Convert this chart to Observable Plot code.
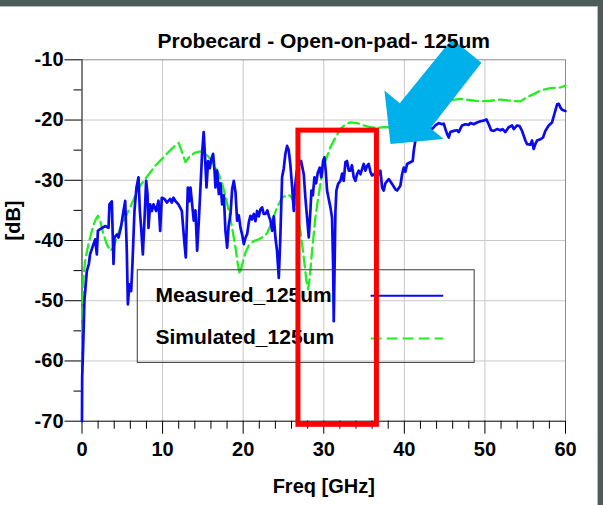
<!DOCTYPE html>
<html><head><meta charset="utf-8">
<script src="https://cdn.jsdelivr.net/npm/d3@7"></script>
<script src="https://cdn.jsdelivr.net/npm/@observablehq/plot@0.6"></script>
<style>
body{margin:0;background:#fff;}
#wrap{position:relative;width:603px;height:505px;background:#4b5c59;overflow:hidden;font-family:"Liberation Sans",Arial,sans-serif;}
#paper{position:absolute;left:0;top:6px;width:598px;height:499px;background:#fff;border-top:1px solid #b8b8b8;border-right:1px solid #b8b8b8;box-sizing:border-box;}
#chart{position:absolute;left:0;top:0;}
</style></head><body>
<div id="wrap"><div id="paper"></div><div id="chart"></div></div>
<script>
const titleText = "Probecard - Open-on-pad- 125um";
const xLabel = "Freq [GHz]";
const yLabel = "[dB]";
const xTicks = [0, 10, 20, 30, 40, 50, 60];
const xTickLabels = ["0", "10", "20", "30", "40", "50", "60"];
const xMinor = [2,4,6,8,12,14,16,18,22,24,26,28,32,34,36,38,42,44,46,48,52,54,56,58];
const yTicks = [-10, -20, -30, -40, -50, -60, -70];
const yTickLabels = ["-10", "-20", "-30", "-40", "-50", "-60", "-70"];
const yMinor = [-15, -25, -35, -45, -55, -65];
const gridXVals = [10, 20, 30, 40, 50];
const gridYVals = [-20, -30, -40, -50, -60];
const seriesNames = ["Measured_125um", "Simulated_125um"];

const freqMeas = [0.00,0.02,0.15,0.30,0.60,0.85,1.00,1.43,1.64,1.84,1.97,2.26,2.87,3.29,3.41,3.70,3.91,4.03,4.32,4.53,4.82,5.15,5.36,5.56,5.69,5.89,6.10,6.26,6.51,6.76,7.01,7.18,7.34,7.55,7.75,7.96,8.13,8.25,8.46,8.67,8.87,9.20,9.49,9.70,9.90,10.24,10.53,10.94,11.15,11.35,11.56,11.97,12.39,12.72,12.88,13.13,13.30,13.46,13.87,14.08,14.29,14.50,14.70,14.90,15.10,15.30,15.45,15.65,15.85,16.05,16.27,16.45,16.56,16.77,16.98,17.18,17.39,17.60,17.80,18.01,18.20,18.43,18.63,18.84,19.05,19.25,19.45,19.67,19.87,20.08,20.30,20.50,20.70,20.90,21.10,21.32,21.52,21.73,21.94,22.15,22.35,22.55,22.77,23.00,23.20,23.39,23.59,23.80,24.00,24.20,24.42,24.60,24.83,25.04,25.24,25.45,25.65,25.86,26.07,26.28,26.45,26.65,26.90,27.19,27.52,27.72,27.93,28.14,28.34,28.47,28.65,28.84,29.05,29.25,29.50,29.70,29.92,30.08,30.25,30.41,30.60,30.83,31.03,31.16,31.24,31.35,31.45,31.57,31.78,32.07,32.28,32.48,32.69,32.89,33.10,33.30,33.50,33.72,33.93,34.13,34.34,34.55,34.75,34.96,35.17,35.38,35.58,35.79,35.99,36.28,36.60,36.82,37.03,37.24,37.44,37.65,38.06,38.47,38.89,39.10,39.51,39.72,39.93,40.13,40.34,40.75,41.04,41.17,41.37,41.58,42.30,43.00,43.44,43.85,44.27,44.68,44.89,45.10,45.30,45.51,45.71,46.13,46.54,46.75,47.16,47.58,47.99,48.20,48.61,49.02,49.44,49.85,50.18,50.47,50.76,51.09,51.50,51.92,52.20,52.54,52.95,53.37,53.58,53.99,54.30,54.61,54.81,55.02,55.23,55.64,55.85,56.05,56.26,56.47,56.88,57.21,57.50,57.92,58.33,58.62,58.96,59.16,59.36,59.57,59.99];
const dbMeas = [-70.0,-62.8,-57.3,-50.0,-45.1,-43.9,-42.3,-40.6,-39.8,-42.3,-38.4,-38.1,-37.6,-37.9,-34.0,-33.5,-43.9,-39.5,-39.0,-39.5,-37.9,-35.1,-33.4,-41.7,-50.6,-47.3,-48.4,-43.9,-35.1,-31.2,-29.5,-35.1,-37.9,-42.3,-36.7,-30.1,-32.3,-37.9,-34.0,-35.1,-34.0,-35.1,-33.4,-38.4,-32.9,-33.1,-33.7,-33.1,-33.7,-32.9,-33.4,-34.0,-35.1,-40.6,-42.8,-31.2,-33.5,-31.2,-36.7,-35.0,-41.7,-36.7,-31.2,-25.6,-22.0,-27.0,-31.2,-26.8,-28.0,-26.5,-25.6,-28.5,-31.2,-28.4,-32.3,-30.5,-34.0,-32.5,-38.4,-41.2,-37.5,-35.6,-31.5,-30.1,-32.0,-36.7,-35.8,-37.9,-39.0,-40.6,-39.5,-38.9,-37.0,-35.9,-36.5,-35.6,-36.8,-35.1,-36.0,-34.8,-34.5,-35.6,-35.6,-35.0,-36.0,-36.7,-38.4,-36.0,-39.5,-41.7,-46.2,-40.0,-29.5,-28.0,-25.6,-24.3,-25.0,-27.5,-31.0,-35.1,-31.0,-28.5,-27.5,-26.8,-29.0,-32.9,-36.2,-39.5,-35.1,-31.7,-32.5,-29.5,-30.5,-28.8,-27.9,-29.5,-26.8,-26.2,-28.5,-31.7,-33.0,-34.5,-36.2,-43.9,-53.4,-44.0,-35.1,-31.7,-30.6,-30.1,-28.9,-30.1,-27.0,-26.8,-28.4,-28.4,-27.5,-29.5,-30.1,-29.0,-28.4,-29.0,-28.2,-27.3,-28.4,-27.6,-27.3,-28.6,-29.2,-29.0,-28.5,-29.0,-28.4,-31.2,-31.7,-30.5,-29.8,-30.6,-31.5,-31.7,-30.9,-29.0,-27.9,-28.6,-27.3,-27.0,-26.8,-25.1,-23.4,-22.9,-21.8,-21.3,-21.5,-20.9,-20.5,-20.7,-20.6,-21.5,-22.3,-22.9,-22.0,-21.8,-21.7,-22.0,-20.9,-20.7,-20.8,-20.5,-20.7,-20.4,-20.2,-20.1,-19.9,-20.7,-21.7,-21.8,-21.5,-21.7,-21.5,-22.0,-21.2,-20.9,-21.5,-20.9,-21.0,-21.8,-22.6,-23.4,-24.0,-24.1,-23.4,-24.8,-24.0,-23.4,-23.2,-22.9,-21.8,-20.9,-20.4,-19.0,-17.4,-17.3,-17.9,-18.3,-18.5];

const freqSim = [0.00,0.06,0.18,0.39,0.80,1.22,1.63,1.97,2.26,2.67,3.08,3.49,3.91,4.32,4.74,5.36,5.98,6.60,7.22,7.84,8.46,9.08,9.90,10.52,11.14,11.60,12.00,12.40,12.84,13.20,13.46,14.08,14.70,15.32,15.94,16.56,16.98,17.39,17.80,18.22,18.63,19.05,19.34,19.58,19.87,20.29,20.70,21.32,21.94,22.56,22.97,23.38,23.80,24.21,24.83,25.45,25.86,26.28,26.69,27.10,27.52,27.85,28.06,28.26,28.55,28.96,29.38,29.79,30.21,30.83,31.45,32.07,32.69,33.31,34.13,34.96,35.79,36.62,37.44,38.30,39.50,40.50,41.50,42.50,43.50,44.50,45.71,46.96,48.20,49.44,50.68,51.92,53.16,54.40,55.23,56.05,56.88,58.12,59.36,60.00];
const dbSim = [-61.0,-51.7,-46.2,-43.4,-40.6,-38.4,-36.7,-35.9,-36.7,-39.0,-40.6,-41.7,-41.2,-39.5,-37.9,-36.2,-34.5,-32.6,-30.9,-29.8,-28.7,-27.6,-26.5,-25.6,-24.8,-24.2,-23.8,-25.3,-27.0,-26.3,-25.9,-25.4,-25.2,-25.5,-26.5,-27.9,-29.0,-30.6,-32.6,-35.1,-37.9,-41.2,-44.0,-45.6,-44.0,-42.0,-40.8,-40.1,-39.8,-39.3,-38.8,-37.5,-36.0,-34.5,-32.9,-32.4,-32.6,-33.4,-35.1,-38.4,-42.8,-46.7,-48.1,-46.2,-41.7,-36.2,-32.3,-29.0,-26.8,-24.5,-22.9,-21.5,-20.7,-20.4,-20.5,-20.9,-21.2,-21.3,-21.2,-21.2,-21.1,-20.5,-19.5,-18.3,-17.3,-16.8,-16.7,-16.5,-16.7,-16.9,-16.8,-16.6,-16.8,-16.9,-16.2,-15.7,-15.1,-14.7,-14.6,-14.3];

// annotation overlays (in data units)
const boxFreq = [26.86, 36.6];
const boxDb = [-21.76, -70.6];
const arrowFreq = [45.93, 49.57, 43.24, 44.89, 38.28, 37.53, 39.43];
const arrowDb = [-6.51, -10.50, -21.38, -23.14, -23.98, -15.11, -17.22];
// legend (in data units)
const legendFreq = [6.92, 48.73];
const legendDb = [-44.94, -60.32];
const legendTextFreq = 9.12;
const legendTextDb = [-49.02, -56.04];
const legendSampleFreq = [35.88, 44.89];
const legendSampleDb = [-49.17, -56.26];

const meas = freqMeas.map((f, i) => ({f, v: dbMeas[i]}));
const sim = freqSim.map((f, i) => ({f, v: dbSim[i]}));
const arrow = arrowFreq.map((f, i) => ({f, v: arrowDb[i]}));
const legendRows = seriesNames.map((name, i) => ({name, v: legendTextDb[i], s: legendSampleDb[i]}));

const blue = "#0a0af0";
const green = "#22ee22";
const font = "Liberation Sans, Arial, sans-serif";

const chart = Plot.plot({
  width: 603, height: 505,
  marginLeft: 81.5, marginRight: 38, marginTop: 59.3, marginBottom: 84.3,
  x: {domain: [0, 60]},
  y: {domain: [-70, -10]},
  style: {background: "transparent", fontFamily: font, overflow: "visible", color: "#000"},
  marks: [
    Plot.gridX(gridXVals, {stroke: "#c8c8c8", strokeOpacity: 1}),
    Plot.gridY(gridYVals, {stroke: "#c8c8c8", strokeOpacity: 1}),
    Plot.ruleY([-10], {stroke: "#8c8c8c"}),
    Plot.ruleX([60], {stroke: "#8c8c8c"}),
    Plot.axisX({ticks: xTicks, tickSize: 13, tickPadding: 8, tickFormat: (d, i) => xTickLabels[i], fontSize: 20, fontWeight: "bold", label: null}),
    Plot.axisX({ticks: xMinor, tickSize: 8, text: null, label: null}),
    Plot.axisY({ticks: yTicks, tickSize: 17, tickPadding: 1.5, tickFormat: (d, i) => yTickLabels[i], fontSize: 20, fontWeight: "bold", label: null}),
    Plot.axisY({ticks: yMinor, tickSize: 8, text: null, label: null}),
    Plot.ruleX([0], {stroke: "#000"}),
    Plot.ruleY([-70], {stroke: "#000"}),
    Plot.line(sim, {x: "f", y: "v", stroke: green, strokeWidth: 2.3, strokeDasharray: "11,5"}),
    Plot.line(meas, {x: "f", y: "v", stroke: blue, strokeWidth: 2.7}),
    Plot.rect([0], {x1: () => legendFreq[0], x2: () => legendFreq[1], y1: () => legendDb[0], y2: () => legendDb[1], fill: "none", stroke: "#3a3a3a", strokeWidth: 1}),
    Plot.text(legendRows, {x: () => legendTextFreq, y: "v", text: "name", textAnchor: "start", fontSize: 21, fontWeight: "bold"}),
    Plot.ruleY([legendRows[0]], {y: "s", x1: () => legendSampleFreq[0], x2: () => legendSampleFreq[1], stroke: blue, strokeWidth: 2}),
    Plot.ruleY([legendRows[1]], {y: "s", x1: () => legendSampleFreq[0], x2: () => legendSampleFreq[1], stroke: green, strokeWidth: 2, strokeDasharray: "11,5"}),
    Plot.rect([0], {x1: () => boxFreq[0], x2: () => boxFreq[1], y1: () => boxDb[0], y2: () => boxDb[1], fill: "none", stroke: "#ff0000", strokeWidth: 5}),
    Plot.line(arrow, {x: "f", y: "v", curve: "linear-closed", fill: "#00b0ea", stroke: "none"}),
    Plot.text([titleText], {frameAnchor: "top", dy: -26.4, text: d => d, fontSize: 21, fontWeight: "bold"}),
    Plot.text([xLabel], {frameAnchor: "bottom", dy: 71.4, text: d => d, fontSize: 20, fontWeight: "bold"}),
    Plot.text([yLabel], {frameAnchor: "left", dx: -68.5, rotate: -90, text: d => d, fontSize: 20, fontWeight: "bold"})
  ]
});
document.getElementById("chart").appendChild(chart);
</script>
</body></html>
